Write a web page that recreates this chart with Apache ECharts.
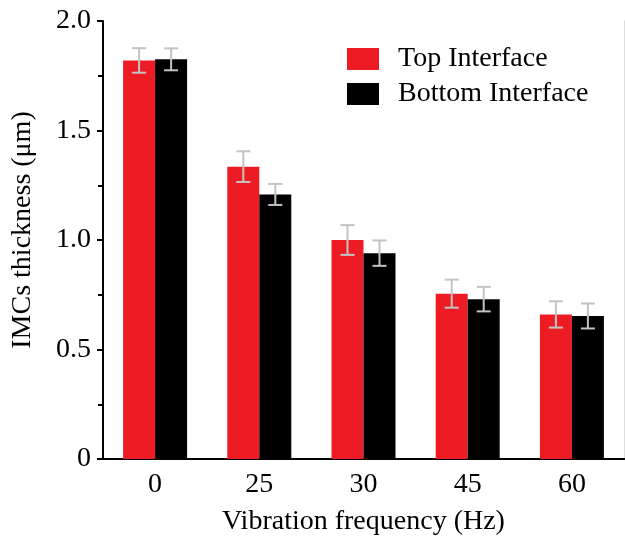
<!DOCTYPE html>
<html>
<head>
<meta charset="utf-8">
<script src="https://cdn.jsdelivr.net/npm/echarts@6/dist/echarts.min.js"></script>
<style>html,body{margin:0;padding:0;background:#fff;}#c{width:625px;height:541px;}</style>
</head>
<body>
<div id="c"></div>
<script>
const categories = ['0', '25', '30', '45', '60'];
const topValues = [1.82, 1.335, 1.0, 0.755, 0.66];
const topErrors = [0.056, 0.07, 0.068, 0.064, 0.06];
const bottomValues = [1.825, 1.208, 0.94, 0.73, 0.653];
const bottomErrors = [0.05, 0.048, 0.058, 0.056, 0.057];
const yTicks = [0, 0.5, 1.0, 1.5, 2.0];

const FONT = "'Liberation Serif','Times New Roman',serif";
const FS = 28;
const BAR_W = 32;

function errData(vals, errs) {
  return vals.map((v, i) => [i, v - errs[i], v + errs[i]]);
}
function errRender(offset) {
  return function (params, api) {
    const i = api.value(0);
    const lo = api.coord([i, api.value(1)]);
    const hi = api.coord([i, api.value(2)]);
    const x = lo[0] + offset;
    const cap = 7;
    const style = { stroke: '#c3c3c3', lineWidth: 2 };
    return {
      type: 'group',
      children: [
        { type: 'line', shape: { x1: x, y1: hi[1], x2: x, y2: lo[1] }, style },
        { type: 'line', shape: { x1: x - cap, y1: hi[1], x2: x + cap, y2: hi[1] }, style },
        { type: 'line', shape: { x1: x - cap, y1: lo[1], x2: x + cap, y2: lo[1] }, style }
      ]
    };
  };
}

const chart = echarts.init(document.getElementById('c'));
chart.setOption({
  animation: false,
  backgroundColor: '#fff',
  grid: { left: 103, right: 1, top: 21, bottom: 80 },
  legend: {
    orient: 'vertical',
    left: 347,
    top: 45,
    padding: 0,
    itemWidth: 32,
    itemHeight: 22,
    itemGap: 7,
    icon: 'rect',
    textStyle: { fontFamily: FONT, fontSize: FS, color: '#000', padding: [0, 0, 0, 14] },
    data: ['Top Interface', 'Bottom Interface']
  },
  xAxis: [{
    type: 'category',
    data: categories,
    name: 'Vibration frequency (Hz)',
    nameLocation: 'middle',
    nameGap: 49,
    nameTextStyle: { fontFamily: FONT, fontSize: FS, color: '#000' },
    axisLine: { lineStyle: { color: '#000', width: 2 } },
    axisTick: { alignWithLabel: true, length: 5, lineStyle: { color: '#000', width: 2 } },
    axisLabel: { fontFamily: FONT, fontSize: FS, color: '#000', margin: 12 },
    splitLine: { show: false }
  }, {
    type: 'category',
    data: categories,
    position: 'top',
    axisLine: { lineStyle: { color: '#000', width: 2 } },
    axisTick: { show: false },
    axisLabel: { show: false }
  }],
  yAxis: [{
    type: 'value',
    min: 0,
    max: 2,
    interval: 0.5,
    name: 'IMCs thickness (\u03bcm)',
    nameLocation: 'middle',
    nameRotate: 90,
    nameGap: 66,
    nameTextStyle: { fontFamily: FONT, fontSize: FS, color: '#000', padding: [0, 0, 0, 20] },
    axisLine: { show: true, lineStyle: { color: '#000', width: 2 } },
    axisTick: { show: true, length: 6, lineStyle: { color: '#000', width: 2 } },
    minorTick: { show: true, splitNumber: 2, length: 5, lineStyle: { color: '#000', width: 2 } },
    axisLabel: {
      fontFamily: FONT, fontSize: FS, color: '#000', margin: 12,
      formatter: v => { const t = yTicks.find(x => Math.abs(x - v) < 1e-9); return t === 0 ? '0' : t.toFixed(1); }
    },
    splitLine: { show: false }
  }, {
    type: 'value',
    min: 0,
    max: 2,
    position: 'right',
    axisLine: { show: true, lineStyle: { color: '#dddddd', width: 1 } },
    axisTick: { show: false },
    axisLabel: { show: false },
    splitLine: { show: false }
  }],
  series: [
    { name: 'Top Interface', type: 'bar', data: topValues, barWidth: BAR_W, barGap: '0%', itemStyle: { color: '#ED1C24' } },
    { name: 'Bottom Interface', type: 'bar', data: bottomValues, barWidth: BAR_W, barGap: '0%', itemStyle: { color: '#000' } },
    { type: 'custom', data: errData(topValues, topErrors), renderItem: errRender(-BAR_W / 2), z: 10, encode: { x: 0, y: [1, 2] } },
    { type: 'custom', data: errData(bottomValues, bottomErrors), renderItem: errRender(BAR_W / 2), z: 10, encode: { x: 0, y: [1, 2] } }
  ]
});
</script>
</body>
</html>
